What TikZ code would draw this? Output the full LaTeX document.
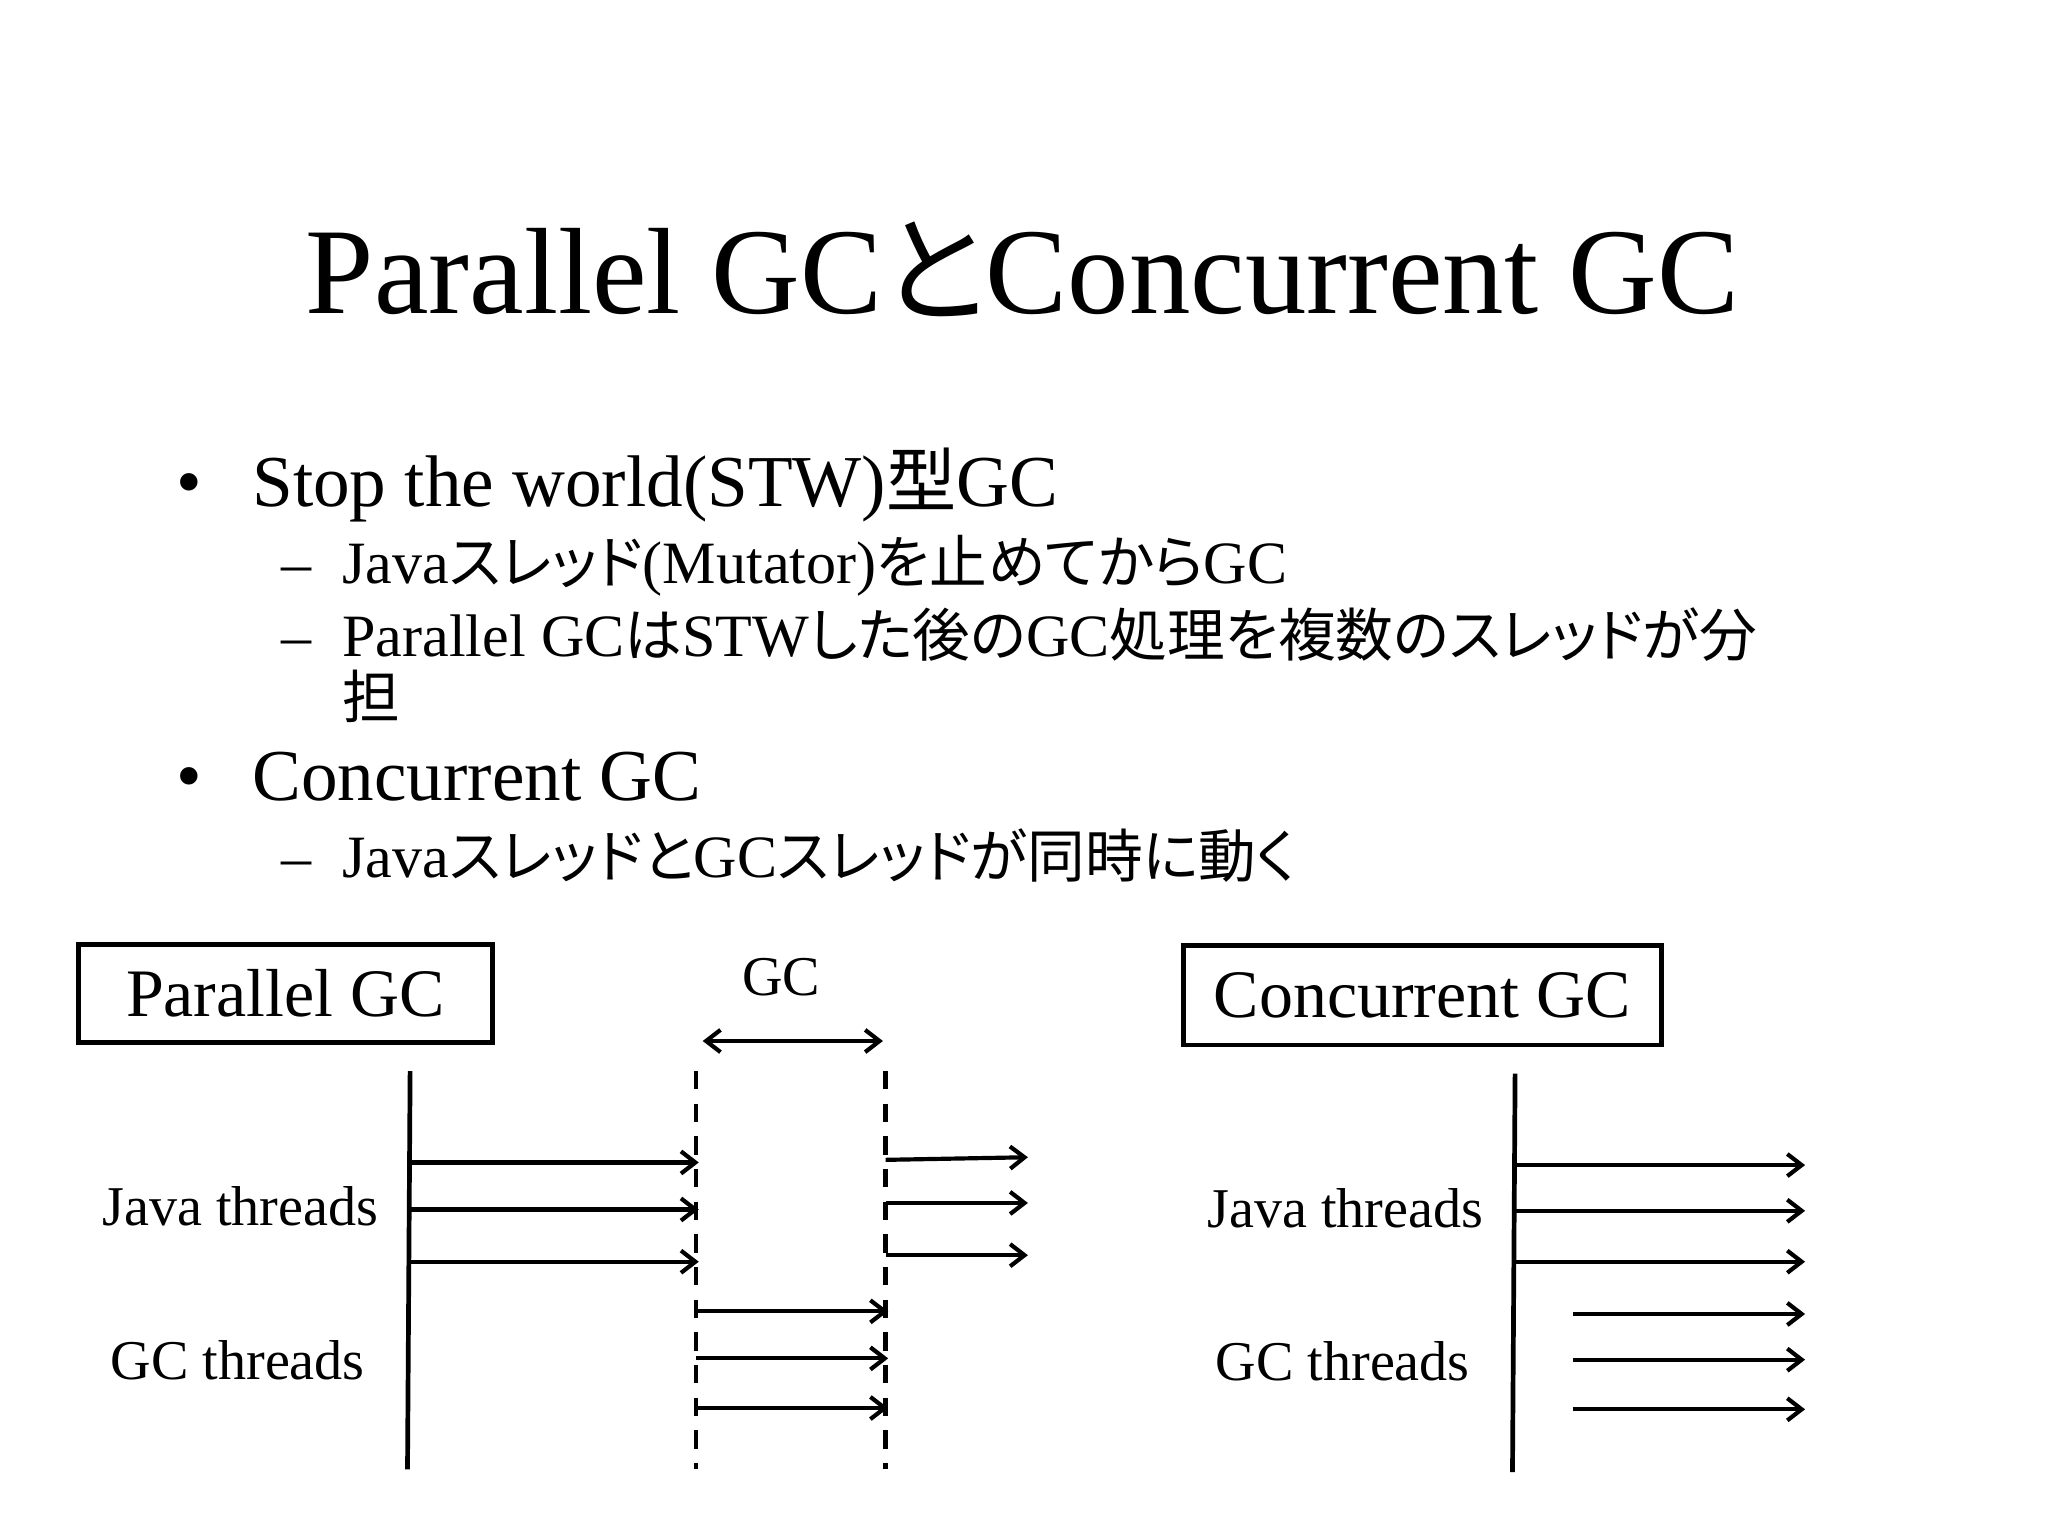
\documentclass[tikz,border=0pt]{standalone}
\usepackage{fontspec}
\setmainfont{Liberation Serif}
\newfontfamily\jp[RawFeature=+palt,Scale=0.96]{Noto Sans CJK JP}
\usetikzlibrary{arrows.meta}
\begin{document}
\begin{tikzpicture}[x=1pt,y=-1pt,
  line/.style={line width=3.6pt},
  tip/.style={},
  arr/.style={line width=3.2pt,-{Straight Barb[length=11pt,width=17pt,line width=3.2pt]}},
  dashline/.style={line width=3.2pt,dash pattern=on 14pt off 11pt},
  txt/.style={anchor=base west,inner sep=0pt},
  lbl/.style={anchor=base,inner sep=0pt,font=\fontsize{43}{43}\selectfont},
  boxed/.style={draw,line width=3.6pt,inner sep=0pt}]
\useasboundingbox[fill=white] (0,0) rectangle (1568,1176);
\node[anchor=base,inner sep=0pt,font=\fontsize{94}{94}\selectfont] (title) at (783,240) {Parallel GC{\jp と}Concurrent GC};
% bullets
\node[txt,font=\fontsize{56}{56}\selectfont] (b1d) at (135,388) {•};
\node[txt,font=\fontsize{56}{56}\selectfont] (b1) at (193,388) {Stop the world(STW){\jp 型}GC};
\node[txt,font=\fontsize{46}{46}\selectfont] (s1d) at (215,447) {–};
\node[txt,font=\fontsize{46}{46}\selectfont] (s1) at (262,447) {Java{\jp スレッド}(Mutator){\jp を止めてから}GC};
\node[txt,font=\fontsize{46}{46}\selectfont] (s2d) at (215,503) {–};
\node[txt,font=\fontsize{46}{46}\selectfont] (s2) at (262,503) {Parallel GC{\jp は}STW{\jp した後の}GC{\jp 処理を複数のスレッドが分}};
\node[txt,font=\fontsize{46}{46}\selectfont] (s2b) at (262,550) {\jp 担};
\node[txt,font=\fontsize{56}{56}\selectfont] (b2d) at (135,613) {•};
\node[txt,font=\fontsize{56}{56}\selectfont] (b2) at (193,613) {Concurrent GC};
\node[txt,font=\fontsize{46}{46}\selectfont] (s3d) at (215,672) {–};
\node[txt,font=\fontsize{46}{46}\selectfont] (s3) at (262,672) {Java{\jp スレッドと}GC{\jp スレッドが同時に動く}};
% boxes
\node[boxed,minimum width=317pt,minimum height=75pt,font=\fontsize{52}{52}\selectfont] (pbox) at (218.5,760.5) {Parallel GC};
\node[boxed,minimum width=366pt,minimum height=76pt,font=\fontsize{52}{52}\selectfont] (cbox) at (1089,762) {Concurrent GC};
\node[lbl] (gcl) at (598,762) {GC};
% left diagram
\coordinate (lt) at (314,820); \coordinate (lb) at (312,1125);
\draw[line] (lt) -- (lb);
\coordinate (d1t) at (533,820); \coordinate (d1b) at (533,1125);
\coordinate (d2t) at (678,820); \coordinate (d2b) at (678,1125);
\draw[dashline] (d1t) -- (d1b);
\draw[dashline] (d2t) -- (d2b);
\coordinate (ga) at (538,797); \coordinate (gb) at (676,797);
\draw[line width=3.2pt,{Straight Barb[length=11pt,width=17pt,line width=3.2pt]}-{Straight Barb[length=11pt,width=17pt,line width=3.2pt]}] (ga) -- (gb);
\foreach \y [count=\i] in {890,926,966}{
  \coordinate (ja\i) at (314,\y); \coordinate (jb\i) at (535,\y);
  \draw[arr] (ja\i) -- (jb\i);}
\foreach \y/\z [count=\i] in {888/886,921/921,961/961}{
  \coordinate (jc\i) at (678,\y); \coordinate (jd\i) at (787,\z);
  \draw[arr] (jc\i) -- (jd\i);}
\foreach \y [count=\i] in {1004,1040,1078}{
  \coordinate (ga\i) at (533,\y); \coordinate (gb\i) at (680,\y);
  \draw[arr] (ga\i) -- (gb\i);}
\node[lbl] (jl) at (184,938) {Java threads};
\node[lbl] (gl) at (182,1056) {GC threads};
% right diagram
\coordinate (rt) at (1160,822); \coordinate (rb) at (1158,1127);
\draw[line] (rt) -- (rb);
\foreach \y [count=\i] in {892,927,966}{
  \coordinate (rja\i) at (1160,\y); \coordinate (rjb\i) at (1382,\y);
  \draw[arr] (rja\i) -- (rjb\i);}
\foreach \y [count=\i] in {1006,1041,1079}{
  \coordinate (rga\i) at (1204,\y); \coordinate (rgb\i) at (1382,\y);
  \draw[arr] (rga\i) -- (rgb\i);}
\node[lbl] (rjl) at (1030,940) {Java threads};
\node[lbl] (rgl) at (1028,1057) {GC threads};
\end{tikzpicture}
\end{document}
